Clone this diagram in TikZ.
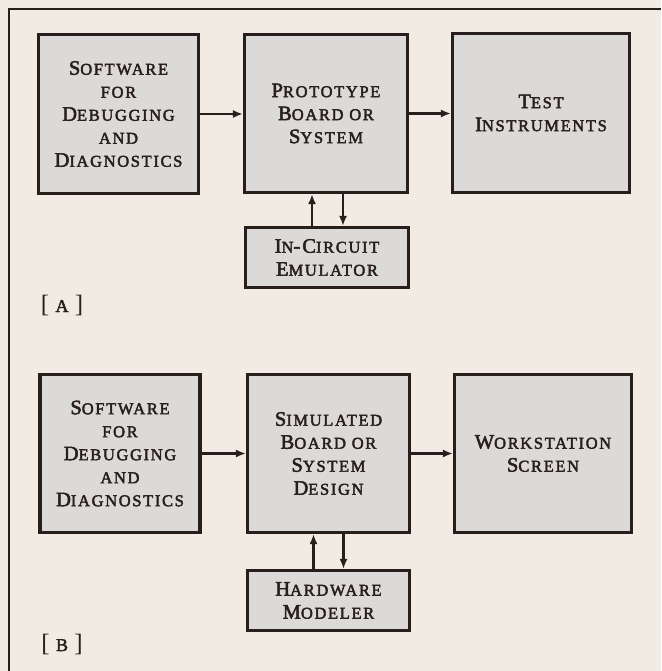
\documentclass[tikz,border=0pt]{standalone}
\usepackage{fontspec}
\setmainfont{Liberation Serif}
\newfontfamily\boxfont[LetterSpace=10,FakeBold=2.5]{Liberation Serif}
\usetikzlibrary{arrows.meta,calc}
\definecolor{paper}{RGB}{242,235,227}
\definecolor{boxgray}{RGB}{220,218,216}
\definecolor{ink}{RGB}{40,30,28}
\newcommand{\ArrTip}{Latex[length=10,width=8]}
\newcommand{\smc}[1]{{\fontsize{16.5}{23}\selectfont #1}}
\tikzset{blk/.style={draw=ink,fill=boxgray,line width=3.2,inner sep=0,align=center,text=ink,font=\boxfont\fontsize{20.5}{23}\selectfont}}
\tikzset{arr/.style={draw=ink,line width=2.6,-{\ArrTip}}}
\tikzset{tag/.style={text=ink,font=\fontsize{25}{25}\selectfont}}
\begin{document}
\begin{tikzpicture}[x=1pt,y=-1pt]
\fill[paper](0,0)rectangle(661,671);\useasboundingbox(0,0)rectangle(661,671);
\draw[ink,line width=1.3](9,671)--(9,9)--(661,9);
% [A]
\node[blk,minimum width=160,minimum height=159](swA)at(118.5,114){S\smc{OFTWARE}\\\smc{FOR}\\D\smc{EBUGGING}\\\smc{AND}\\D\smc{IAGNOSTICS}};
\node[blk,minimum width=163,minimum height=158](pbA)at(326,113.5){P\smc{ROTOTYPE}\\B\smc{OARD OR}\\S\smc{YSTEM}};
\node[blk,minimum width=177,minimum height=159](tiA)at(541,113){T\smc{EST}\\I\smc{NSTRUMENTS}};
\node[blk,minimum width=163,minimum height=60](iceA)at(327,257.5){I\smc{N}-C\smc{IRCUIT}\\E\smc{MULATOR}};
\draw[arr](swA.east)--(swA.east-|pbA.west);\draw[arr](pbA.east)--(pbA.east-|tiA.west);
\draw[arr]([xshift=-15]iceA.north)--([xshift=-15]iceA.north|-pbA.south);
\draw[arr]([xshift=16]iceA.north|-pbA.south)--([xshift=16]iceA.north);
\node[tag](labA)at(62,305){[\ {\boxfont\fontsize{18}{18}\selectfont A}\ ]};
% [B]
\node[blk,minimum width=160,minimum height=158](swB)at(120,453.5){S\smc{OFTWARE}\\\smc{FOR}\\D\smc{EBUGGING}\\\smc{AND}\\D\smc{IAGNOSTICS}};
\node[blk,minimum width=162,minimum height=158](simB)at(328.5,453.5){S\smc{IMULATED}\\B\smc{OARD OR}\\S\smc{YSTEM}\\D\smc{ESIGN}};
\node[blk,minimum width=177,minimum height=158](wsB)at(543,453.5){W\smc{ORKSTATION}\\S\smc{CREEN}};
\node[blk,minimum width=162,minimum height=60](hmB)at(328.5,600.5){H\smc{ARDWARE}\\M\smc{ODELER}};
\draw[arr](swB.east)--(swB.east-|simB.west);\draw[arr](simB.east)--(simB.east-|wsB.west);
\draw[arr]([xshift=-15]hmB.north)--([xshift=-15]hmB.north|-simB.south);
\draw[arr]([xshift=15]hmB.north|-simB.south)--([xshift=15]hmB.north);
\node[tag](labB)at(62,644){[\ {\boxfont\fontsize{18}{18}\selectfont B}\ ]};
\end{tikzpicture}
\end{document}
